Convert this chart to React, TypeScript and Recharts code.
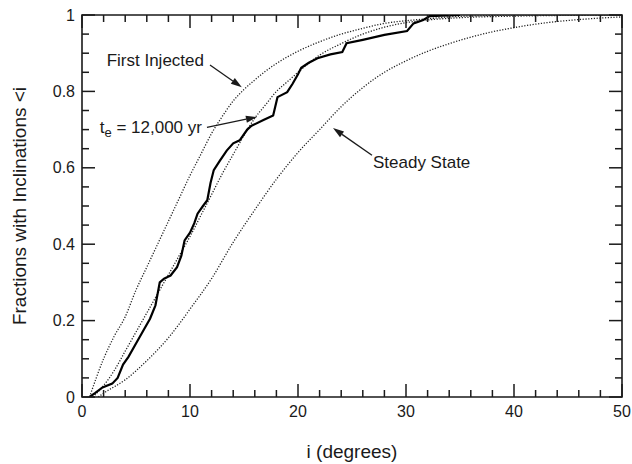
import React from 'react';
import { LineChart, Line, XAxis, YAxis, ReferenceArea, ReferenceLine } from 'recharts';

// steady state model
const ssI = [1.5, 2, 4, 6, 8, 10, 12, 14, 16, 18, 20, 22, 24, 26, 28, 30, 32, 34, 36, 38, 40, 42, 44, 46, 48, 50];
const ssF = [0, 0.01, 0.045, 0.095, 0.155, 0.23, 0.31, 0.405, 0.49, 0.57, 0.64, 0.7, 0.76, 0.81, 0.85, 0.88, 0.905, 0.925, 0.942, 0.956, 0.967, 0.976, 0.983, 0.988, 0.992, 0.995];

// first injected model
const fiI = [0.7, 2, 3, 4, 5, 6, 7, 8, 9, 10, 11, 12, 13, 14, 15, 16, 17, 18, 20, 22, 24, 26, 28, 30, 32, 34, 37, 42, 50];
const fiF = [0, 0.1, 0.16, 0.21, 0.28, 0.34, 0.4, 0.46, 0.52, 0.58, 0.635, 0.69, 0.735, 0.775, 0.805, 0.83, 0.853, 0.873, 0.905, 0.93, 0.95, 0.965, 0.978, 0.985, 0.99, 0.995, 0.998, 1, 1];

// t_e = 12,000 yr model
const mdI = [1, 2, 3, 4, 5, 6, 7, 8, 9, 10, 11, 12, 13, 14, 15, 16, 17, 18, 19, 20, 22, 24, 26, 28, 30, 32, 35, 40, 50];
const mdF = [0, 0.03, 0.07, 0.12, 0.17, 0.22, 0.27, 0.32, 0.37, 0.42, 0.475, 0.53, 0.585, 0.635, 0.685, 0.73, 0.765, 0.8, 0.825, 0.85, 0.895, 0.925, 0.95, 0.968, 0.98, 0.987, 0.993, 0.997, 1];

// observed distribution
const obI = [0.7, 1.2, 1.9, 2.8, 3.3, 3.8, 4.3, 5.0, 5.8, 6.3, 6.8, 7.0, 7.2, 7.6, 8.2, 8.8, 9.2, 9.5, 10.0, 10.4, 10.7, 11.2, 11.6, 11.9, 12.2, 12.8, 13.4, 14.0, 14.6, 15.3, 15.7, 16.8, 17.7, 18.1, 19.0, 19.5, 20.0, 20.3, 21.0, 21.8, 23.0, 24.1, 24.5, 26, 28, 30.1, 30.7, 31.6, 32.2, 35];
const obF = [0, 0.01, 0.025, 0.035, 0.05, 0.085, 0.105, 0.14, 0.18, 0.205, 0.24, 0.27, 0.3, 0.31, 0.318, 0.34, 0.37, 0.41, 0.43, 0.455, 0.48, 0.5, 0.515, 0.56, 0.594, 0.62, 0.645, 0.664, 0.672, 0.7, 0.71, 0.725, 0.737, 0.785, 0.798, 0.82, 0.845, 0.862, 0.875, 0.887, 0.897, 0.903, 0.926, 0.935, 0.948, 0.958, 0.978, 0.987, 0.997, 1];

const xTicks = [0, 2, 4, 6, 8, 10, 12, 14, 16, 18, 20, 22, 24, 26, 28, 30, 32, 34, 36, 38, 40, 42, 44, 46, 48, 50];
const yTicks = [0, 0.05, 0.1, 0.15, 0.2, 0.25, 0.3, 0.35, 0.4, 0.45, 0.5, 0.55, 0.6, 0.65, 0.7, 0.75, 0.8, 0.85, 0.9, 0.95, 1];

const toPts = (xs: number[], ys: number[]) => xs.map((i, k) => ({ i, f: ys[k] }));
const steady = toPts(ssI, ssF);
const injected = toPts(fiI, fiF);
const model = toPts(mdI, mdF);
const observed = toPts(obI, obF);

const FONT = '"Liberation Sans", Arial, Helvetica, sans-serif';
const INK = '#1a1a1a';

// svg sits at the page origin; plot box in page pixels
const W = 632;
const H = 464;
const PL = 82;
const PR = 622;
const PT = 15;
const PB = 397;

const XTick = (props: any) => {
  const { x, payload } = props;
  const v = payload.value;
  const major = v % 10 === 0;
  const len = major ? 13 : 7;
  return (
    <g>
      <line x1={x} y1={PB} x2={x} y2={PB - len} stroke={INK} strokeWidth={1.5} />
      <line x1={x} y1={PT} x2={x} y2={PT + len} stroke={INK} strokeWidth={1.5} />
      {major && (
        <text x={x} y={PB + 20} textAnchor="middle" fontSize={16} fontFamily={FONT} fill={INK}>
          {v}
        </text>
      )}
    </g>
  );
};

const YTick = (props: any) => {
  const { y, payload } = props;
  const v = payload.value;
  const major = Math.round(v * 100) % 20 === 0;
  const len = major ? 13 : 7;
  return (
    <g>
      <line x1={PL} y1={y} x2={PL + len} y2={y} stroke={INK} strokeWidth={1.5} />
      <line x1={PR} y1={y} x2={PR - len} y2={y} stroke={INK} strokeWidth={1.5} />
      {major && (
        <text x={PL - 7} y={y + 5.5} textAnchor="end" fontSize={16} fontFamily={FONT} fill={INK}>
          {Math.round(v * 10) / 10}
        </text>
      )}
    </g>
  );
};

// arrow from the label end (x1,y1) to the tip (x2,y2), with the label drawn at the start
const arrow = (label: React.ReactNode, anchor: 'start' | 'end', dx: number, dy: number) => (props: any) => {
  const { x1, y1, x2, y2 } = props;
  if (x1 == null) return null;
  const a = Math.atan2(y2 - y1, x2 - x1);
  const L = 11;
  const hw = 3.5;
  const bx = x2 - L * Math.cos(a);
  const by = y2 - L * Math.sin(a);
  const p1 = `${bx + hw * Math.sin(a)},${by - hw * Math.cos(a)}`;
  const p2 = `${bx - hw * Math.sin(a)},${by + hw * Math.cos(a)}`;
  return (
    <g>
      <line x1={x1} y1={y1} x2={bx} y2={by} stroke={INK} strokeWidth={1.3} />
      <polygon points={`${x2},${y2} ${p1} ${p2}`} fill={INK} />
      <text x={x1 + dx} y={y1 + dy} textAnchor={anchor} fontSize={17} fontFamily={FONT} fill={INK}>
        {label}
      </text>
    </g>
  );
};

const teLabel = (
  <>
    t
    <tspan dy={4} fontSize={13}>e</tspan>
    <tspan dy={-4}> = 12,000 yr</tspan>
  </>
);

export default function App() {
  return (
    <div style={{ position: 'absolute', left: 0, top: 0, width: W, height: H }}>
      <LineChart width={W} height={H} margin={{ top: PT, right: W - PR, left: 0, bottom: 0 }}>
        <XAxis
          dataKey="i"
          type="number"
          domain={[0, 50]}
          ticks={xTicks}
          interval={0}
          allowDataOverflow
          axisLine={false}
          tickLine={false}
          tick={<XTick />}
          height={H - PB}
          label={{ value: 'i (degrees)', position: 'insideBottom', offset: 6, fontSize: 19, fontFamily: FONT, fill: INK }}
        />
        <YAxis
          type="number"
          domain={[0, 1]}
          ticks={yTicks}
          interval={0}
          allowDataOverflow
          axisLine={false}
          tickLine={false}
          tick={<YTick />}
          width={PL}
          label={{
            value: 'Fractions with Inclinations <i',
            angle: -90,
            position: 'insideLeft',
            offset: 19,
            style: { textAnchor: 'middle', fontSize: 19, fontFamily: FONT, fill: INK },
          }}
        />
        <ReferenceArea x1={0} x2={50} y1={0} y2={1} fill="none" stroke={INK} strokeWidth={1.6} />
        <Line data={steady} dataKey="f" type="monotone" stroke="#222" strokeWidth={1.3} strokeDasharray="1.2 1.6" dot={false} isAnimationActive={false} />
        <Line data={injected} dataKey="f" type="monotone" stroke="#222" strokeWidth={1.3} strokeDasharray="1.2 1.6" dot={false} isAnimationActive={false} />
        <Line data={model} dataKey="f" type="monotone" stroke="#222" strokeWidth={1.3} strokeDasharray="1.2 1.6" dot={false} isAnimationActive={false} />
        <Line data={observed} dataKey="f" type="linear" stroke="#000" strokeWidth={2.2} dot={false} isAnimationActive={false} />
        <ReferenceLine segment={[{ x: 11.85, y: 0.869 }, { x: 14.8, y: 0.811 }]} shape={arrow('First Injected', 'end', -6, 1)} />
        <ReferenceLine segment={[{ x: 11.57, y: 0.706 }, { x: 16.2, y: 0.733 }]} shape={arrow(teLabel, 'end', -5, 6)} />
        <ReferenceLine segment={[{ x: 26.85, y: 0.633 }, { x: 23.24, y: 0.704 }]} shape={arrow('Steady State', 'start', 1, 13)} />
      </LineChart>
    </div>
  );
}
